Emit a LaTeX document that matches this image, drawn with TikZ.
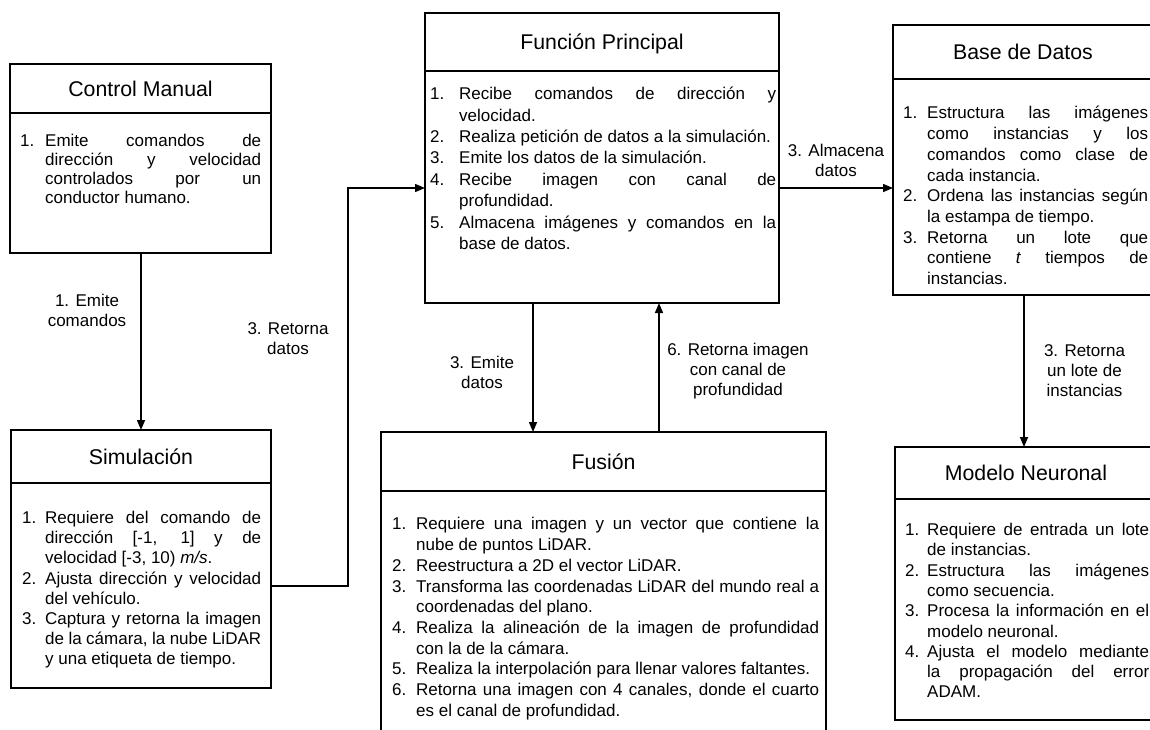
\documentclass[tikz,border=0pt]{standalone}
\usepackage{fontspec}
\setmainfont{Liberation Sans}
\usetikzlibrary{arrows.meta}
\newlength\hangamt
\newcommand\litem[1]{\par\noindent\hangindent=\hangamt\hangafter=1\makebox[\hangamt][l]{\rule{0pt}{14pt}#1}}
\begin{document}
\begin{tikzpicture}[x=1pt,y=-1pt,
  box/.style={draw, line width=1.5pt, inner sep=0pt, outer sep=0pt, anchor=north west},
  ttl/.style={anchor=base, inner sep=0pt, font=\fontsize{21.3}{25}\selectfont},
  body/.style={anchor=north west, inner sep=0pt, align=justify},
  lbl/.style={align=center, inner sep=0pt, font=\fontsize{17}{20}\selectfont},
  conn/.style={line width=1.4pt, -{Triangle[length=10pt,width=8pt]}},
  hdr/.style={line width=1.5pt}]
\useasboundingbox (0,0) rectangle (1150,729);
\fill[white] (0,0) rectangle (1150,729);
\clip (0,0) rectangle (1150,729);

% boxes
\node[box, minimum width=261pt, minimum height=189pt] (cm) at (10,64) {};
\node[box, minimum width=260pt, minimum height=258pt] (sim) at (11,430) {};
\node[box, minimum width=354pt, minimum height=290pt] (fp) at (425,13) {};
\node[box, minimum width=262pt, minimum height=270pt] (bd) at (893,25) {};
\node[box, minimum width=445pt, minimum height=320pt] (fus) at (381,432) {};
\node[box, minimum width=262pt, minimum height=273pt] (mn) at (895,447) {};

% header separators
\draw[hdr] ([yshift=-49pt]cm.north west) -- ([yshift=-49pt]cm.north east);
\draw[hdr] ([yshift=-53pt]sim.north west) -- ([yshift=-53pt]sim.north east);
\draw[hdr] ([yshift=-58pt]fp.north west) -- ([yshift=-58pt]fp.north east);
\draw[hdr] ([yshift=-54pt]bd.north west) -- ([yshift=-54pt]bd.north east);
\draw[hdr] ([yshift=-59pt]fus.north west) -- ([yshift=-59pt]fus.north east);
\draw[hdr] ([yshift=-52pt]mn.north west) -- ([yshift=-52pt]mn.north east);

% titles
\node[ttl] (cmT) at (140.5,96) {Control Manual};
\node[ttl] (simT) at (141,464) {Simulación};
\node[ttl] (fpT) at (602,49.6) {Función Principal};
\node[ttl] (bdT) at (1023,59.6) {Base de Datos};
\node[ttl] (fusT) at (603.5,469) {Fusión};
\node[ttl] (mnT) at (1026,480.6) {Modelo Neuronal};

% bodies
\node[body, text width=241pt, font=\fontsize{17}{19}\selectfont] (cmB) at (20,127) {\setlength\hangamt{25pt}%
\litem{1.}Emite comandos de\linebreak dirección y velocidad\linebreak controlados por un\linebreak conductor humano.\par};

\node[body, text width=239pt, font=\fontsize{17}{20.2}\selectfont] (simB) at (22,503) {\setlength\hangamt{23pt}%
\litem{1.}Requiere del comando de\linebreak dirección [-1, 1] y de\linebreak velocidad [-3, 10) \textit{m/s}.
\litem{2.}Ajusta dirección y velocidad\linebreak del vehículo.
\litem{3.}Captura y retorna la imagen\linebreak de la cámara, la nube LiDAR\linebreak y una etiqueta de tiempo.\par};

\node[body, text width=346pt, font=\fontsize{17}{21.4}\selectfont] (fpB) at (430,78) {\setlength\hangamt{29pt}%
\litem{1.}Recibe comandos de dirección y\linebreak velocidad.
\litem{2.}Realiza petición de datos a la simulación.
\litem{3.}Emite los datos de la simulación.
\litem{4.}Recibe imagen con canal de\linebreak profundidad.
\litem{5.}Almacena imágenes y comandos en la\linebreak base de datos.\par};

\node[body, text width=245pt, font=\fontsize{17}{20.7}\selectfont] (bdB) at (903,98) {\setlength\hangamt{24pt}%
\litem{1.}Estructura las imágenes\linebreak como instancias y los\linebreak comandos como clase de\linebreak cada instancia.
\litem{2.}Ordena las instancias según\linebreak la estampa de tiempo.
\litem{3.}Retorna un lote que\linebreak contiene \textit{t} tiempos de\linebreak instancias.\par};

\node[body, text width=427pt, font=\fontsize{17}{20.7}\selectfont] (fusB) at (392,509) {\setlength\hangamt{24pt}%
\litem{1.}Requiere una imagen y un vector que contiene la\linebreak nube de puntos LiDAR.
\litem{2.}Reestructura a 2D el vector LiDAR.
\litem{3.}Transforma las coordenadas LiDAR del mundo real a\linebreak coordenadas del plano.
\litem{4.}Realiza la alineación de la imagen de profundidad\linebreak con la de la cámara.
\litem{5.}Realiza la interpolación para llenar valores faltantes.
\litem{6.}Retorna una imagen con 4 canales, donde el cuarto\linebreak es el canal de profundidad.\par};

\node[body, text width=244pt, font=\fontsize{17}{20.3}\selectfont] (mnB) at (905,515) {\setlength\hangamt{22pt}%
\litem{1.}Requiere de entrada un lote\linebreak de instancias.
\litem{2.}Estructura las imágenes\linebreak como secuencia.
\litem{3.}Procesa la información en el\linebreak modelo neuronal.
\litem{4.}Ajusta el modelo mediante\linebreak la propagación del error\linebreak ADAM.\par};

% connectors
\coordinate (c1) at (141,0);
\coordinate (c2) at (348,586);
\coordinate (c3) at (0,188);
\coordinate (c4) at (533,0);
\coordinate (c5) at (659,0);
\coordinate (c6) at (1024,0);
\draw[conn] (cm.south -| c1) -- (sim.north -| c1);
\draw[conn] (sim.east |- c2) -- (c2) -- (c2 |- c3) -- (fp.west |- c3);
\draw[conn] (fp.east |- c3) -- (bd.west |- c3);
\draw[conn] (fp.south -| c4) -- (fus.north -| c4);
\draw[conn] (fus.north -| c5) -- (fp.south -| c5);
\draw[conn] (bd.south -| c6) -- (mn.north -| c6);

% labels
\node[lbl] (l1) at (87,310) {1. Emite\\comandos};
\node[lbl] (l2) at (288,338.5) {3. Retorna\\datos};
\node[lbl] (l3) at (836,160.5) {3. Almacena\\datos};
\node[lbl] (l4) at (482,372) {3. Emite\\datos};
\node[lbl] (l5) at (738,371) {6. Retorna imagen\\con canal de\\profundidad};
\node[lbl] (l6) at (1084.5,371) {3. Retorna\\un lote de\\instancias};
\end{tikzpicture}
\end{document}
